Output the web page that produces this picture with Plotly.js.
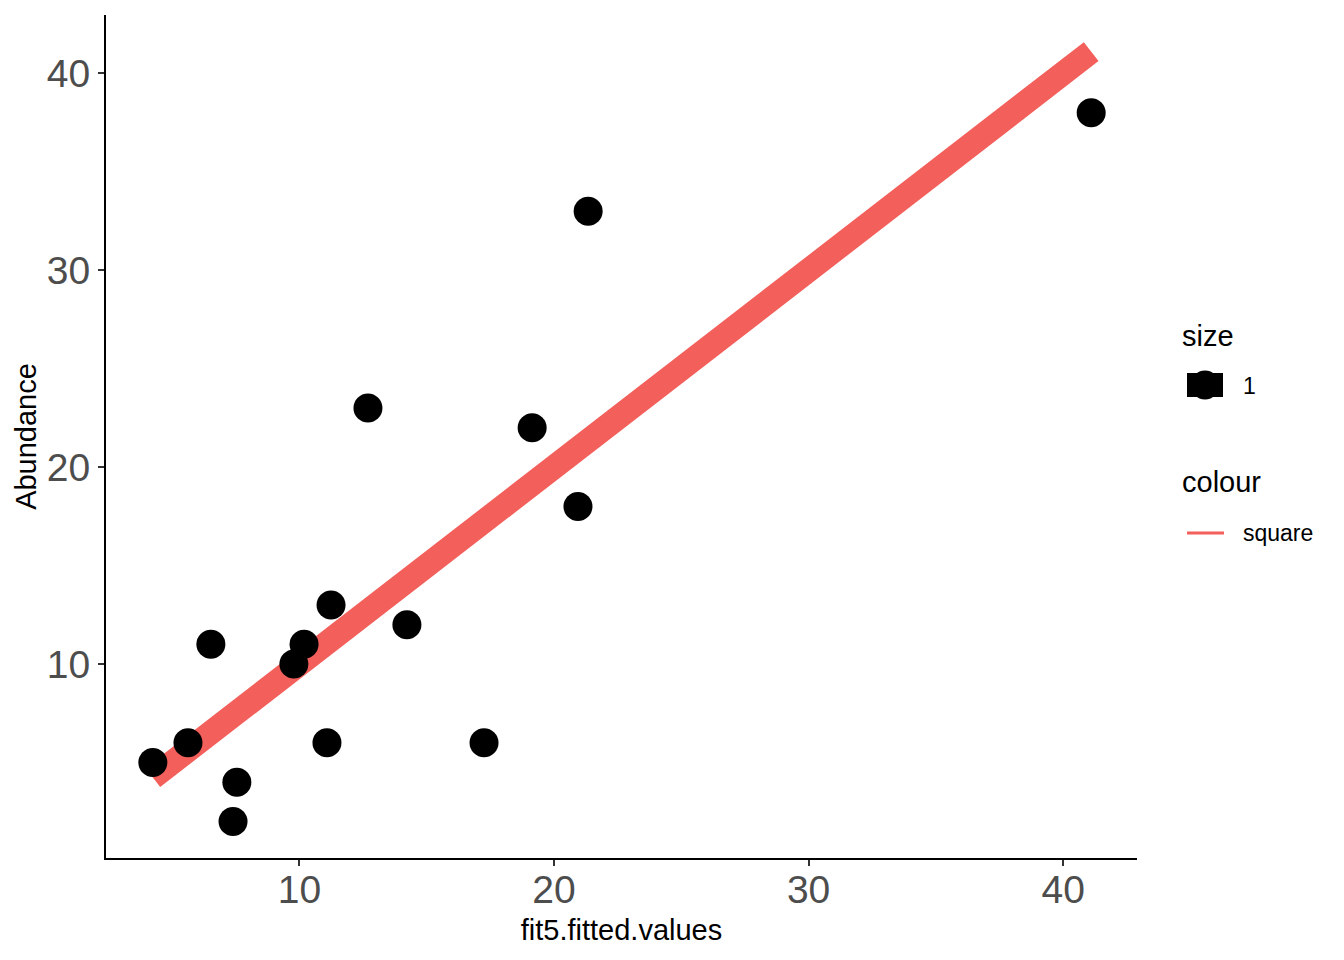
<!DOCTYPE html>
<html>
<head>
<meta charset="utf-8">
<script src="https://cdn.plot.ly/plotly-3.0.1.min.js"></script>
<style>
  html, body { margin: 0; padding: 0; background: #ffffff; }
  #chart { width: 1344px; height: 960px; }
</style>
</head>
<body>
<div id="chart"></div>
<script>
// ---- data ----
const fittedValues = [4.24, 5.62, 6.52, 7.39, 7.54, 9.78, 10.18, 11.08, 11.24, 12.69, 14.22, 17.25, 19.14, 20.94, 21.34, 41.1];
const abundance    = [5, 6, 11, 2, 4, 10, 11, 6, 13, 23, 12, 6, 22, 18, 33, 38];
const xTicks = [10, 20, 30, 40];
const yTicks = [10, 20, 30, 40];
const sizeLegendTitle = 'size';
const sizeLegendLabel = '1';
const colourLegendTitle = 'colour';
const colourLegendLabel = 'square';

// ---- styling ----
const W = 1344, H = 960;
const M = { l: 106, r: 207, t: 15, b: 102 };
const plotW = W - M.l - M.r, plotH = H - M.t - M.b;
const px2x = p => (p - M.l) / plotW;
const px2y = p => (H - M.b - p) / plotH;
const lineColor = '#F35F5B';
const FONT = 'Liberation Sans, Arial, Helvetica, sans-serif';

// fitted line (fitted values against themselves, sorted)
const order = fittedValues.map((v, i) => i).sort((a, b) => fittedValues[a] - fittedValues[b]);
const lineX = order.map(i => fittedValues[i]);

const traces = [
  {
    type: 'scatter', mode: 'lines',
    x: lineX, y: lineX,
    line: { color: lineColor, width: 24 },
    hoverinfo: 'skip', showlegend: false
  },
  {
    type: 'scatter', mode: 'markers',
    x: fittedValues, y: abundance,
    marker: { color: '#000000', size: 29, line: { width: 0 } },
    showlegend: false
  }
];

const axisCommon = {
  showgrid: false, zeroline: false,
  showline: true, linecolor: '#000000', linewidth: 2,
  ticks: 'outside', ticklen: 6, tickwidth: 2, tickcolor: '#333333',
  tickfont: { family: FONT, size: 39, color: '#4D4D4D' },
  automargin: false
};

const layout = {
  width: W, height: H,
  margin: M,
  paper_bgcolor: '#ffffff', plot_bgcolor: '#ffffff',
  showlegend: false,
  font: { family: FONT },
  xaxis: Object.assign({}, axisCommon, {
    range: [2.40, 42.9],
    tickvals: xTicks, ticktext: xTicks.map(String),
    ticklabelstandoff: -10,
    title: { text: 'fit5.fitted.values', font: { family: FONT, size: 29, color: '#000000' }, standoff: 10 }
  }),
  yaxis: Object.assign({}, axisCommon, {
    range: [0.15, 42.96],
    tickvals: yTicks, ticktext: yTicks.map(String),
    ticklabelstandoff: 0,
    title: { text: 'Abundance', font: { family: FONT, size: 29, color: '#000000' }, standoff: 2 }
  }),
  annotations: [
    { text: sizeLegendTitle, xref: 'paper', yref: 'paper', x: px2x(1180), y: px2y(336), xanchor: 'left', yanchor: 'middle', showarrow: false, font: { family: FONT, size: 29, color: '#000000' } },
    { text: sizeLegendLabel, xref: 'paper', yref: 'paper', x: px2x(1241), y: px2y(386), xanchor: 'left', yanchor: 'middle', showarrow: false, font: { family: FONT, size: 23, color: '#000000' } },
    { text: colourLegendTitle, xref: 'paper', yref: 'paper', x: px2x(1180), y: px2y(482), xanchor: 'left', yanchor: 'middle', showarrow: false, font: { family: FONT, size: 29, color: '#000000' } },
    { text: colourLegendLabel, xref: 'paper', yref: 'paper', x: px2x(1241), y: px2y(533), xanchor: 'left', yanchor: 'middle', showarrow: false, font: { family: FONT, size: 23, color: '#000000' } }
  ],
  shapes: [
    { type: 'rect', xref: 'paper', yref: 'paper', x0: px2x(1187), x1: px2x(1223), y0: px2y(397), y1: px2y(373), fillcolor: '#000000', line: { width: 0 } },
    { type: 'circle', xref: 'paper', yref: 'paper', x0: px2x(1190.5), x1: px2x(1219.5), y0: px2y(399.5), y1: px2y(370.5), fillcolor: '#000000', line: { width: 0 } },
    { type: 'line', xref: 'paper', yref: 'paper', x0: px2x(1187), x1: px2x(1224), y0: px2y(533), y1: px2y(533), line: { color: lineColor, width: 3 } }
  ]
};

Plotly.newPlot('chart', traces, layout, { displayModeBar: false, staticPlot: true });
</script>
</body>
</html>
